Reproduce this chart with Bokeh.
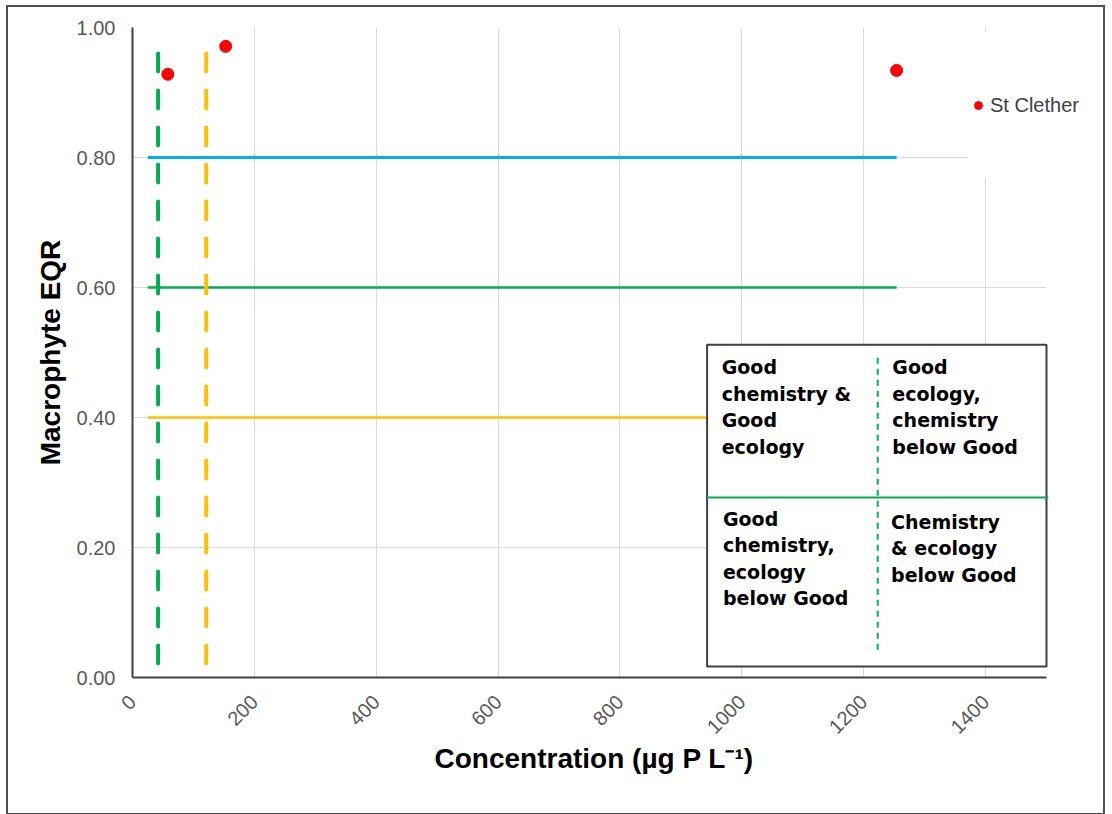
import math
from bokeh.plotting import figure
from bokeh.models import (Range1d, FixedTicker, NumeralTickFormatter, Legend, LegendItem,
                          ColumnDataSource, Title)
from bokeh.layouts import column
from bokeh.core.properties import value
from bokeh.embed import file_html
from bokeh.resources import INLINE

# ---- data ----
site_name = "St Clether"
site_conc = [58, 153, 1254]
site_eqr = [0.928, 0.971, 0.934]

# ecological class boundaries (horizontal lines): EQR values and x extent
hi_good_eqr = 0.80
good_mod_eqr = 0.60
mod_poor_eqr = 0.40
boundary_x = [25, 1254]

# chemistry standards (vertical dashed lines)
high_std_conc = 42
good_std_conc = 121
std_eqr = [0.96, 0.0]

# quadrant key box
key_left, key_right = 943, 1500
key_bottom, key_top = 0.017, 0.512
key_mid_x = 1223
key_mid_y = 0.277
key_texts = ["Good\nchemistry &\nGood\necology",
             "Good\necology,\nchemistry\n below Good",
             "Good\nchemistry,\necology\nbelow Good",
             "Chemistry\n& ecology\nbelow Good"]
key_text_x = [967, 1247, 969, 1245]
key_text_y = [0.494, 0.494, 0.261, 0.256]

x_title = "Concentration (µg P L⁻¹)"
y_title = "Macrophyte EQR"
x_axis_max = 1500
x_ticks = [0, 200, 400, 600, 800, 1000, 1200, 1400]
y_ticks = [0.0, 0.2, 0.4, 0.6, 0.8, 1.0]

# layout (pixels)
W, H = 1095, 806
BL, BR, BT, BB = 124, 5, 20, 136
frame_w = W - BL - BR
axis_len_px = 914  # pixel length of the 0..1500 axis
x_end = x_axis_max * frame_w / axis_len_px

p = figure(width=W, height=H, output_backend="svg", toolbar_location=None,
           x_range=Range1d(0, x_end), y_range=Range1d(0, 1.0),
           min_border_left=BL, min_border_right=BR, min_border_top=BT, min_border_bottom=BB)
p.outline_line_color = None
p.background_fill_color = "white"

# grid
p.xgrid.ticker = FixedTicker(ticks=x_ticks)
p.ygrid.ticker = FixedTicker(ticks=y_ticks)
p.xgrid.grid_line_color = "#d9d9d9"
p.ygrid.grid_line_color = "#d9d9d9"
try:
    p.ygrid.cross_bounds = (0, x_axis_max)
except Exception:
    p.ygrid.grid_line_color = None
    p.segment(x0=[0] * len(y_ticks), x1=[x_axis_max] * len(y_ticks), y0=y_ticks, y1=y_ticks,
              line_color="#d9d9d9", line_width=1)

# axes
for ax in (p.xaxis[0], p.yaxis[0]):
    ax.axis_line_color = "#404040"
    ax.axis_line_width = 2
    ax.major_tick_line_color = None
    ax.minor_tick_line_color = None
    ax.major_label_text_color = "#595959"
    ax.major_label_text_font = "Liberation Sans"
    ax.major_label_text_font_size = "20px"
    ax.axis_label_text_font = "Liberation Sans"
    ax.axis_label_text_font_style = "bold"
    ax.axis_label_text_font_size = "28px"
    ax.axis_label_text_color = "#000000"

p.xaxis.bounds = (0, x_axis_max)
p.xaxis.ticker = FixedTicker(ticks=x_ticks)
p.yaxis.ticker = FixedTicker(ticks=y_ticks)
p.yaxis.formatter = NumeralTickFormatter(format="0.00")
p.xaxis.major_label_orientation = math.pi / 4
p.yaxis.major_label_standoff = 11
p.xaxis.major_label_standoff = 15
p.yaxis.axis_label = y_title
p.yaxis.axis_label_standoff = 8

# x-axis title, centred under the 0..1500 axis
p.add_layout(Title(text=x_title, align="left", offset=302, standoff=0, vertical_align="top",
                   text_font="Liberation Sans", text_font_style="bold",
                   text_font_size="28px", text_color="#000000"), "below")

# class boundary lines
p.line(boundary_x, [hi_good_eqr] * 2, line_color="#00b0f0", line_width=3)
p.line(boundary_x, [good_mod_eqr] * 2, line_color="#00b050", line_width=2.5)
p.line(boundary_x, [mod_poor_eqr] * 2, line_color="#ffc000", line_width=2.5)

# chemistry standards
p.line([high_std_conc] * 2, std_eqr, line_color="#00b050", line_width=4,
       line_dash="18 19", line_cap="round")
p.line([good_std_conc] * 2, std_eqr, line_color="#ffc000", line_width=4,
       line_dash="18 19", line_cap="round")

# quadrant key
p.quad(left=[key_left], right=[key_right], bottom=[key_bottom], top=[key_top],
       fill_color="white", line_color="#404040", line_width=2)
p.line([key_left, key_right + 3], [key_mid_y] * 2, line_color="#00b050", line_width=2)
p.line([key_mid_x] * 2, [key_top - 0.02, key_bottom + 0.02], line_color="#00b050",
       line_width=2, line_dash="6 5")
src = ColumnDataSource(dict(x=key_text_x, y=key_text_y, t=key_texts))
p.text(x="x", y="y", text="t", source=src, text_font=value("DejaVu Sans"),
       text_font_style="bold", text_font_size="19px", text_color="#000000",
       text_baseline="top", text_align="left", text_line_height=1.2)

# site points
pts = p.scatter(site_conc, site_eqr, size=12, color="#ff0000", line_color="#ff0000")

legend = Legend(items=[LegendItem(label=site_name, renderers=[pts])],
                location=(836, 499), padding=10, glyph_width=20, glyph_height=146,
                label_height=146, label_standoff=2, spacing=0, margin=0,
                label_text_font="Liberation Sans", label_text_font_size="20px",
                label_text_color="#404040", border_line_color=None,
                background_fill_color="white", background_fill_alpha=1.0)
p.add_layout(legend, "center")

layout = column(p, styles={"border": "2px solid #505050", "margin-left": "6px",
                           "margin-top": "5px"})
open("out.html", "w").write(file_html(layout, INLINE))
